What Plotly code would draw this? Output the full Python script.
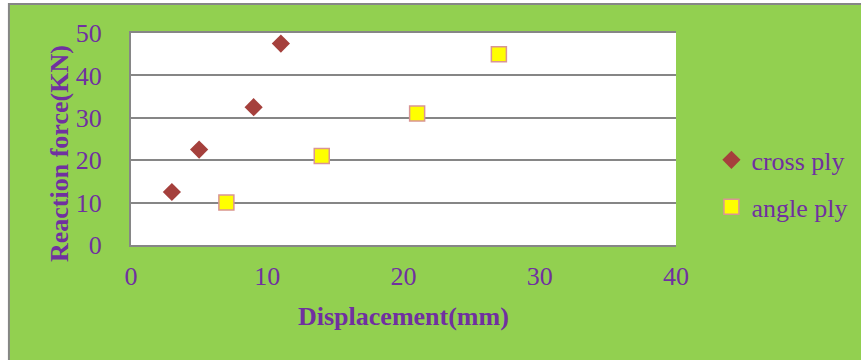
import plotly.graph_objects as go

cross_x = [3, 5, 9, 11]
cross_y = [12.5, 22.5, 32.5, 47.5]
angle_x = [7, 14, 21, 27]
angle_y = [10, 21, 31, 45]

purple = "#7030A0"
font = "Liberation Serif"
fs = 26

fig = go.Figure()
fig.add_trace(go.Scatter(
    x=cross_x, y=cross_y, mode="markers", name="cross ply", legendgroup="a",
    marker=dict(symbol="diamond", size=14, color="#A5403C", line=dict(width=0))))
fig.add_trace(go.Scatter(
    x=angle_x, y=angle_y, mode="markers", name="angle ply", legendgroup="b",
    marker=dict(symbol="square", size=15, color="#FFFF00", line=dict(width=1.5, color="#D99594"))))

fig.update_layout(
    width=861, height=360,
    margin=dict(l=131, r=185, t=33, b=115, autoexpand=False),
    paper_bgcolor="white", plot_bgcolor="white",
    font=dict(family=font, color=purple, size=fs),
    showlegend=True,
    legend=dict(x=1.065, y=0.512, xanchor="left", yanchor="top", bgcolor="rgba(0,0,0,0)",
                font=dict(family=font, size=fs, color=purple), tracegroupgap=10,
                traceorder="grouped", itemwidth=30),
    xaxis=dict(range=[0, 40], tickvals=[0, 10, 20, 30, 40], showgrid=False, zeroline=False,
               showline=True, mirror=True, linecolor="#868686", linewidth=2, ticks="",
               ticklabelstandoff=7, tickfont=dict(family=font, size=fs, color=purple)),
    yaxis=dict(range=[0, 50], tickvals=[0, 10, 20, 30, 40, 50], showgrid=True, gridcolor="#868686",
               gridwidth=1.5, zeroline=False, showline=True, linecolor="#868686", linewidth=2,
               ticks="", ticklabelstandoff=22, tickfont=dict(family=font, size=fs, color=purple)),
    shapes=[
        dict(type="rect", xref="paper", yref="paper", x0=-0.224, x1=1.4, y0=-0.7, y1=1.137,
             fillcolor="#92D050", line=dict(color="#868686", width=2), layer="below"),
        dict(type="rect", xref="paper", yref="paper", x0=0, x1=1, y0=0, y1=1,
             fillcolor="white", line=dict(width=0), layer="below"),
    ],
    annotations=[
        dict(text="<b>Displacement(mm)</b>", xref="paper", yref="paper", x=0.5, y=-0.335,
             xanchor="center", yanchor="middle", showarrow=False,
             font=dict(family=font, size=fs, color=purple)),
        dict(text="<b>Reaction force(KN)</b>", xref="paper", yref="paper", x=-0.13, y=0.43,
             xanchor="center", yanchor="middle", showarrow=False, textangle=-90,
             font=dict(family=font, size=fs, color=purple)),
    ],
)
fig.write_html("out.html", config={"displayModeBar": False},
               post_script="document.body.style.margin='0';document.body.style.padding='0';")
